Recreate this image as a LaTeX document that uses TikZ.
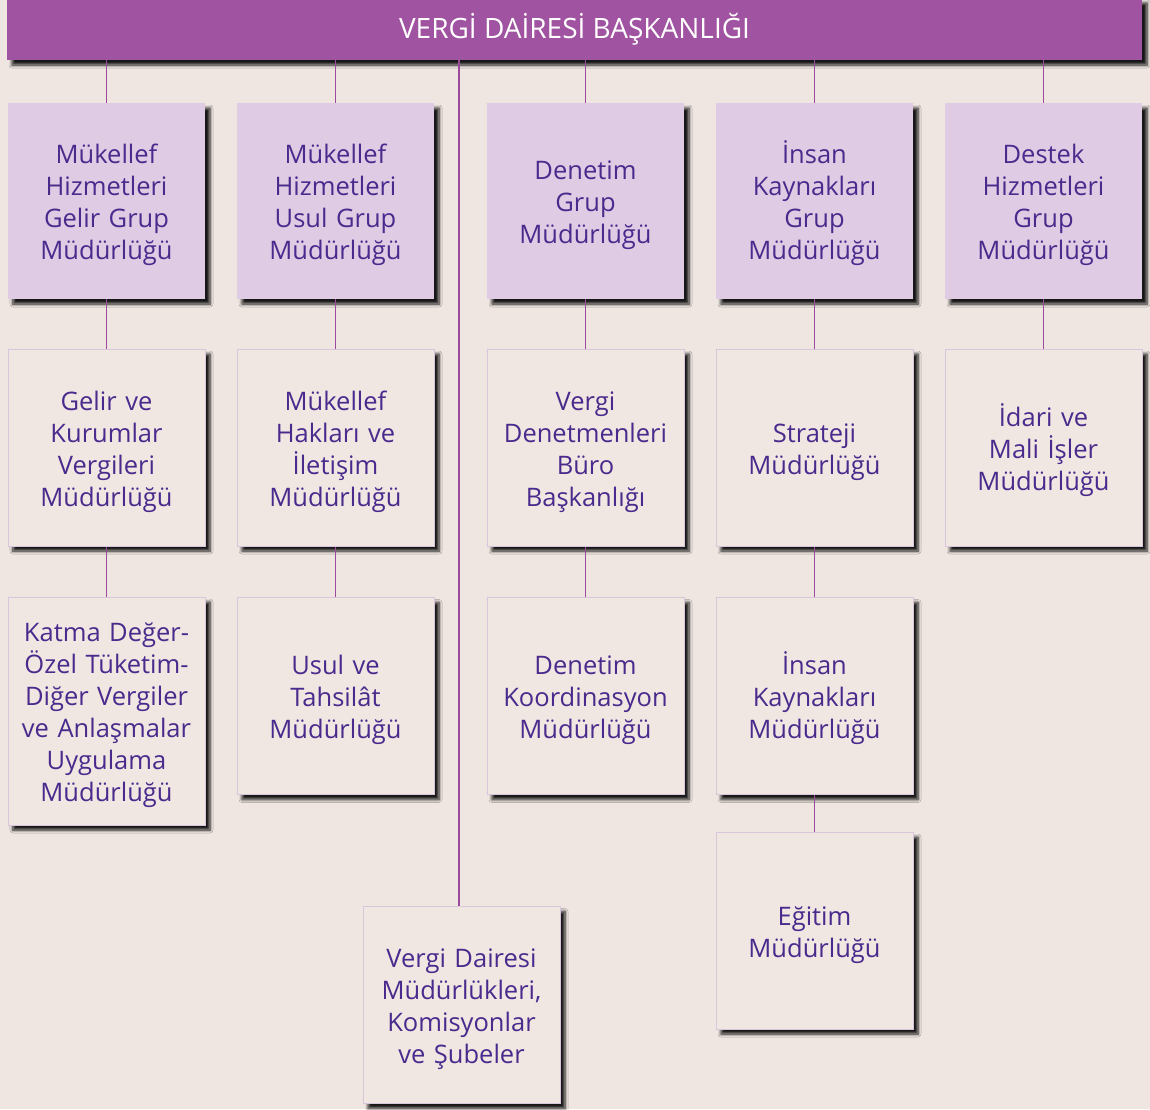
\documentclass[tikz,border=0pt]{standalone}
\usepackage{fontspec}
\setmainfont{Open Sans}
\usetikzlibrary{shadows.blur}
\definecolor{bgc}{HTML}{EFE6E2}
\definecolor{hdrc}{HTML}{A053A1}
\definecolor{lvla}{HTML}{DFCBE4}
\definecolor{lvlb}{HTML}{F0E7E3}
\definecolor{bordc}{HTML}{D9C6DD}
\definecolor{txtc}{HTML}{4A2A8C}
\definecolor{linec}{HTML}{9C4A9E}
\tikzset{
  boxshadow/.style={blur shadow={shadow xshift=5pt, shadow yshift=-5pt, shadow blur steps=6, shadow blur radius=3pt, shadow opacity=90}},
  basebox/.style={boxshadow, minimum width=197pt, text width=194pt, align=center, inner sep=0pt,
     text=txtc, font=\fontsize{25.5}{32}\selectfont,
     execute at begin node={\rule{0pt}{32pt}}, execute at end node={\rule[-11pt]{0pt}{0pt}}},
  grpbox/.style={basebox, fill=lvla, minimum height=196pt},
  subbox/.style={basebox, fill=lvlb, draw=bordc, line width=1pt, minimum height=197pt},
  conn/.style={draw=linec, line width=1.6pt},
}
\begin{document}
\begin{tikzpicture}[x=1pt,y=-1pt]
\fill[bgc] (0,0) rectangle (1150,1109);
\useasboundingbox (0,0) rectangle (1150,1109);
% header
\node[boxshadow, fill=hdrc, minimum width=1135pt, minimum height=62pt, inner sep=0pt,
  text=white, font=\fontsize{28}{30}\selectfont] (hdr) at (574.5,29) {VERGİ DAİRESİ BAŞKANLIĞI};
% level 1
\node[grpbox] (g1) at (106.5,201) {Mükellef\\Hizmetleri\\Gelir Grup\\Müdürlüğü};
\node[grpbox] (g2) at (335.5,201) {Mükellef\\Hizmetleri\\Usul Grup\\Müdürlüğü};
\node[grpbox] (g3) at (585.5,201) {Denetim\\Grup\\Müdürlüğü};
\node[grpbox] (g4) at (814.5,201) {İnsan\\Kaynakları\\Grup\\Müdürlüğü};
\node[grpbox] (g5) at (1043.5,201) {Destek\\Hizmetleri\\Grup\\Müdürlüğü};
% level 2
\node[subbox] (a1) at (106.5,447.5) {Gelir ve\\Kurumlar\\Vergileri\\Müdürlüğü};
\node[subbox] (b1) at (335.5,447.5) {Mükellef\\Hakları ve\\İletişim\\Müdürlüğü};
\node[subbox] (c1) at (585.5,447.5) {Vergi\\Denetmenleri\\Büro\\Başkanlığı};
\node[subbox] (d1) at (814.5,447.5) {Strateji\\Müdürlüğü};
\node[subbox] (e1) at (1043.5,447.5) {İdari ve\\Mali İşler\\Müdürlüğü};
% level 3
\node[subbox, minimum height=228pt] (a2) at (106.5,711) {Katma Değer-\\Özel Tüketim-\\Diğer Vergiler\\ve Anlaşmalar\\Uygulama\\Müdürlüğü};
\node[subbox] (b2) at (335.5,696) {Usul ve\\Tahsilât\\Müdürlüğü};
\node[subbox] (c2) at (585.5,696) {Denetim\\Koordinasyon\\Müdürlüğü};
\node[subbox] (d2) at (814.5,696) {İnsan\\Kaynakları\\Müdürlüğü};
% level 4
\node[subbox] (d3) at (814.5,930.5) {Eğitim\\Müdürlüğü};
\node[subbox] (vd) at (461.5,1005) {Vergi Dairesi\\Müdürlükleri,\\Komisyonlar\\ve Şubeler};
% connectors
\draw[conn] (hdr.south -| g1.north) -- (g1.north);
\draw[conn] (hdr.south -| g2.north) -- (g2.north);
\draw[conn] (hdr.south -| g3.north) -- (g3.north);
\draw[conn] (hdr.south -| g4.north) -- (g4.north);
\draw[conn] (hdr.south -| g5.north) -- (g5.north);
\draw[conn] (hdr.south -| 459,0) -- (vd.north -| 459,0);
\draw[conn] (g1) -- (a1); \draw[conn] (a1) -- (a2);
\draw[conn] (g2) -- (b1); \draw[conn] (b1) -- (b2);
\draw[conn] (g3) -- (c1); \draw[conn] (c1) -- (c2);
\draw[conn] (g4) -- (d1); \draw[conn] (d1) -- (d2); \draw[conn] (d2) -- (d3);
\draw[conn] (g5) -- (e1);
\end{tikzpicture}
\end{document}
